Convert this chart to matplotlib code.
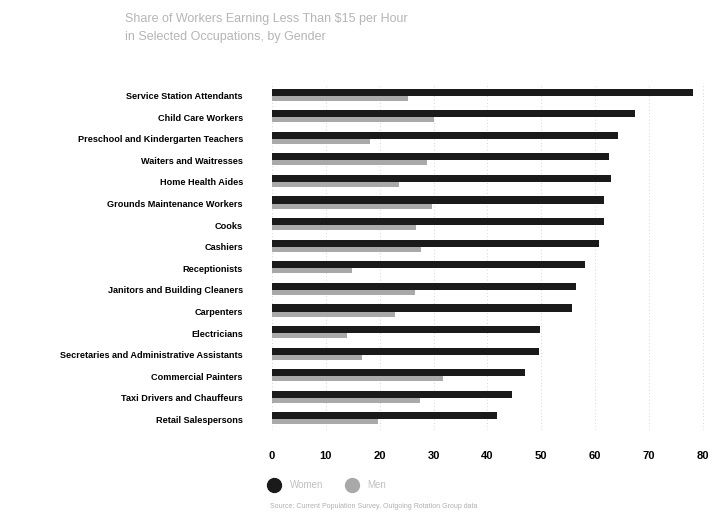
import numpy as np
import matplotlib
matplotlib.use('Agg')
import matplotlib.pyplot as plt
from matplotlib.lines import Line2D

# Occupations, top to bottom
occupations = [
    'Service Station Attendants', 'Child Care Workers',
    'Preschool and Kindergarten Teachers', 'Waiters and Waitresses',
    'Home Health Aides', 'Grounds Maintenance Workers', 'Cooks', 'Cashiers',
    'Receptionists', 'Janitors and Building Cleaners', 'Carpenters',
    'Electricians', 'Secretaries and Administrative Assistants',
    'Commercial Painters', 'Taxi Drivers and Chauffeurs', 'Retail Salespersons',
]
# Black series and grey series (percent)
series_a = [78.2, 67.4, 64.2, 62.6, 62.9, 61.7, 61.7, 60.8,
            58.2, 56.5, 55.7, 49.7, 49.5, 46.9, 44.6, 41.8]
series_b = [25.3, 30.0, 18.2, 28.8, 23.5, 29.8, 26.8, 27.6,
            14.8, 26.6, 22.9, 13.9, 16.7, 31.7, 27.5, 19.7]
series_names = ['Women', 'Men']
xticks = [0, 10, 20, 30, 40, 50, 60, 70, 80]

DARK = '#1a1a1a'
GREY = '#a9a9a9'
FONT = ['Liberation Sans', 'DejaVu Sans']

fig = plt.figure(figsize=(7.26, 5.17), dpi=100)
ax = fig.add_axes([0.3747, 0.168, 0.597, 0.668])

y = np.arange(len(occupations))
ax.barh(y - 0.16, series_a, height=0.33, color=DARK, zorder=3)
ax.barh(y + 0.12, series_b, height=0.23, color=GREY, zorder=3)

ax.set_ylim(len(occupations) - 0.5, -0.5)
ax.set_xlim(0, 80.5)
ax.set_yticks(y)
ax.set_yticklabels(occupations, family=FONT, fontweight='bold', fontsize=6.6)
ax.set_xticks(xticks)
ax.set_xticklabels([str(t) for t in xticks], family=FONT,
                   fontweight='bold', fontsize=8)
ax.tick_params(axis='both', length=0)
ax.tick_params(axis='y', pad=21)
ax.tick_params(axis='x', pad=15)
for s in ax.spines.values():
    s.set_visible(False)
ax.grid(axis='x', color='#c8c8c8', lw=0.6, ls=(0, (1, 3)), zorder=0)
ax.set_axisbelow(True)

# Title (faint in the reference)
fig.text(0.172, 0.975, 'Share of Workers Earning Less Than $15 per Hour',
         color='#b5b5b5', fontsize=9, va='top', family=FONT)
fig.text(0.172, 0.94, 'in Selected Occupations, by Gender',
         color='#b5b5b5', fontsize=9, va='top', family=FONT)

# Legend
handles = [Line2D([0], [0], marker='o', ls='', color=DARK, ms=10),
           Line2D([0], [0], marker='o', ls='', color=GREY, ms=10)]
leg = fig.legend(handles, series_names, loc='center left',
                 bbox_to_anchor=(0.352, 0.062), ncol=2, frameon=False,
                 handletextpad=0.6, columnspacing=2.0,
                 prop={'family': FONT, 'size': 7})
for t in leg.get_texts():
    t.set_color('#c0c0c0')

fig.text(0.372, 0.018, 'Source: Current Population Survey, Outgoing Rotation Group data',
         color='#b0b0b0', fontsize=5, family=FONT)

fig.savefig('out.png', dpi=100)
